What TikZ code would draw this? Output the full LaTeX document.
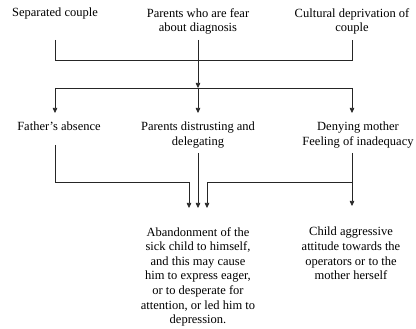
\documentclass[tikz,border=0pt]{standalone}
\usepackage{fontspec}
\setmainfont{Liberation Serif}
\usetikzlibrary{arrows.meta, positioning, calc}

\begin{document}
\begin{tikzpicture}[
    x=1pt, y=-1pt,
    txt/.style={inner sep=0pt, align=center, anchor=north,
                font=\fontsize{12.5}{14.6}\selectfont},
    ln/.style={line width=0.6pt, black!85},
    arr/.style={ln, -{Triangle[length=5pt, width=4.5pt]}}
]
\useasboundingbox (0,0) rectangle (416,329);
% Causes
\node[txt] (sep)  at (55,8)  {Separated couple};
\node[txt] (fear) at (198,8) {Parents who are fear\\about diagnosis};
\node[txt] (cult) at (352,8) {Cultural deprivation of\\couple};
% Behaviours
\node[txt] (fath) at (59,122)  {Father’s absence};
\node[txt] (dist) at (198,122) {Parents distrusting and\\delegating};
\node[txt] (deny) at (358,122) {Denying mother\\Feeling of inadequacy};
% Effects
\node[txt] (aband) at (198,227) {Abandonment of the\\sick child to himself,\\and this may cause\\him to express eager,\\or to desperate for\\attention, or led him to\\depression.};
\node[txt] (aggr)  at (351,227) {Child aggressive\\attitude towards the\\operators or to the\\mother herself};

% levels of the connectors
\coordinate (t1) at (0,40);
\coordinate (j1) at (0,60);
\coordinate (j2) at (0,88);
\coordinate (h2) at (0,113);
\coordinate (t2) at (0,145);
\coordinate (t3) at (0,153);
\coordinate (j3) at (0,182);
\coordinate (h3) at (0,208);

% first junction
\draw[ln] (sep |- t1) -- (sep |- j1) -| (cult |- t1);
\draw[arr] (fear |- t1) -- (fear |- j2);
\draw[ln] (sep |- j2) -- (cult |- j2);
\draw[arr] (sep |- j2) -- (sep |- h2);
\draw[arr] (fear |- j2) -- (fear |- h2);
\draw[arr] (cult |- j2) -- (cult |- h2);

% second junction
\draw[arr] (sep |- t2) -- (sep |- j3) -- ([xshift=-9pt]dist |- j3) -- ([xshift=-9pt]dist |- h3);
\draw[arr] (dist |- t3) -- (dist |- h3);
\draw[arr] (cult |- t3) -- ([yshift=2pt]cult |- h3);
\draw[arr] (cult |- j3) -- ([xshift=9pt]dist |- j3) -- ([xshift=9pt]dist |- h3);
\end{tikzpicture}
\end{document}
